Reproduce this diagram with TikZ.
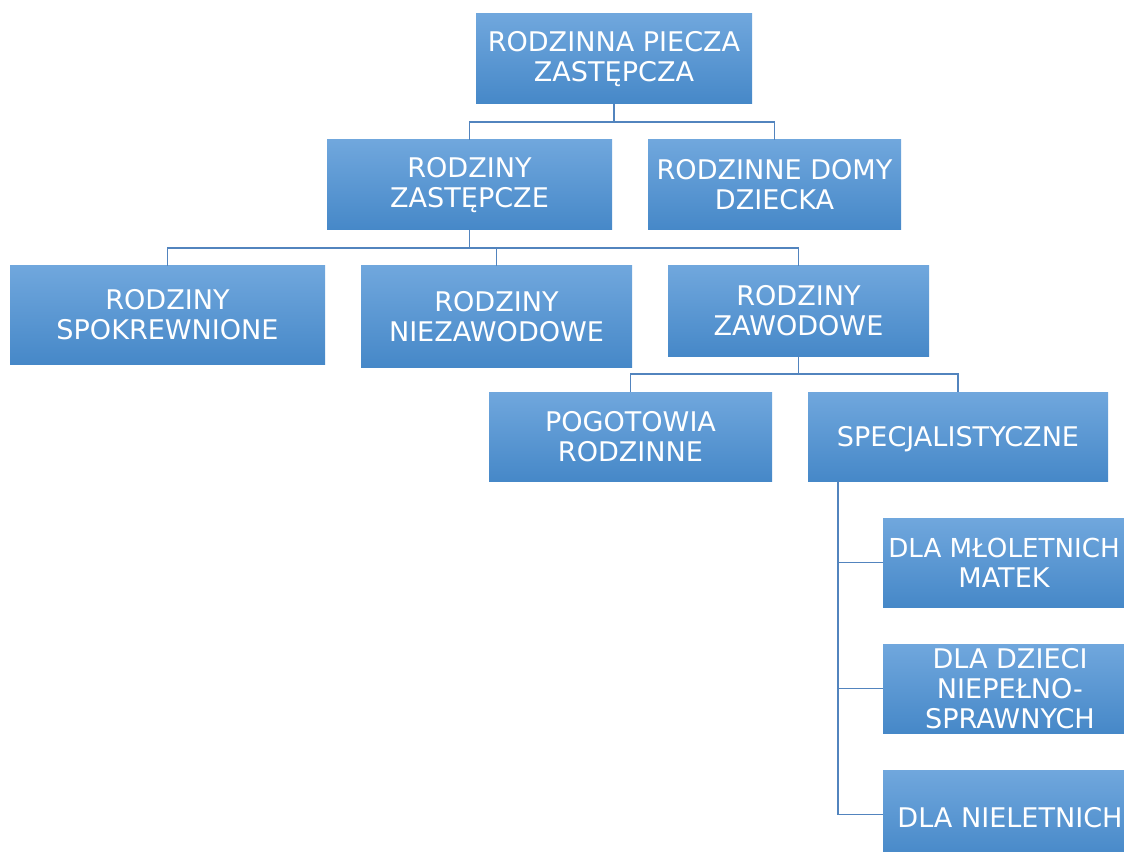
\documentclass[tikz,border=0pt]{standalone}
\usepackage{fontspec}
\setmainfont{DejaVu Sans}
\usetikzlibrary{calc}
\definecolor{boxtop}{RGB}{112,167,221}
\definecolor{boxmid}{RGB}{91,155,214}
\definecolor{boxbot}{RGB}{70,136,200}
\definecolor{conn}{RGB}{82,132,190}
\tikzset{
  box/.style={draw=none, top color=boxtop, middle color=boxmid, bottom color=boxbot,
    text=white, align=center, inner sep=0pt, outer sep=0pt,
    font=\fontsize{20.3}{22.3}\selectfont,
    execute at begin node={\rule{0pt}{0.95em}}},
  conline/.style={draw=conn, line width=1.3pt},
}
\newcommand{\bx}[6]{\node[box, minimum width=#4*0.75pt, minimum height=#5*0.75pt] (#1) at (#2,#3) {#6};}
\begin{document}
\begin{tikzpicture}[x=0.75pt,y=-0.75pt]
\useasboundingbox (0,0) rectangle (1124,852);
\bx{p}{614}{59}{276}{90}{RODZINNA PIECZA\\ZASTĘPCZA}
\bx{rz}{469.5}{185}{285}{90}{RODZINY\\ZASTĘPCZE}
\bx{rdd}{774.5}{185}{253}{90}{RODZINNE DOMY\\DZIECKA}
\bx{spok}{167.5}{315}{315}{98}{RODZINY\\SPOKREWNIONE}
\bx{niez}{496.5}{316.5}{271}{101}{RODZINY\\NIEZAWODOWE}
\bx{zaw}{798.5}{311}{261}{90}{RODZINY\\ZAWODOWE}
\bx{pog}{630.5}{436.5}{283}{89}{POGOTOWIA\\RODZINNE}
\bx{spec}{958}{436.5}{300}{89}{SPECJALISTYCZNE}
\bx{mat}{1004}{562.5}{242}{89}{\fontsize{19.6}{22.3}\selectfont DLA MŁOLETNICH\\MATEK}
\bx{niep}{1010}{688.5}{254}{89}{DLA DZIECI\\NIEPEŁNO-\\SPRAWNYCH}
\bx{niel}{1010}{814.5}{254}{89}{DLA NIELETNICH}
% connectors
\draw[conline] (p.south) -- ++(0,18) -| (rz.north);
\draw[conline] (p.south) -- ++(0,18) -| (rdd.north);
\draw[conline] (rz.south) -- ++(0,18) -| (spok.north);
\draw[conline] (rz.south) -- ++(0,18) -| (niez.north);
\draw[conline] (rz.south) -- ++(0,18) -| (zaw.north);
\draw[conline] (zaw.south) -- ++(0,18) -| (pog.north);
\draw[conline] (zaw.south) -- ++(0,18) -| (spec.north);
\coordinate (sv) at ($(spec.south west)+(30,0)$);
\draw[conline] (sv) |- (mat.west);
\draw[conline] (sv) |- (niep.west);
\draw[conline] (sv) |- (niel.west);
\end{tikzpicture}
\end{document}
